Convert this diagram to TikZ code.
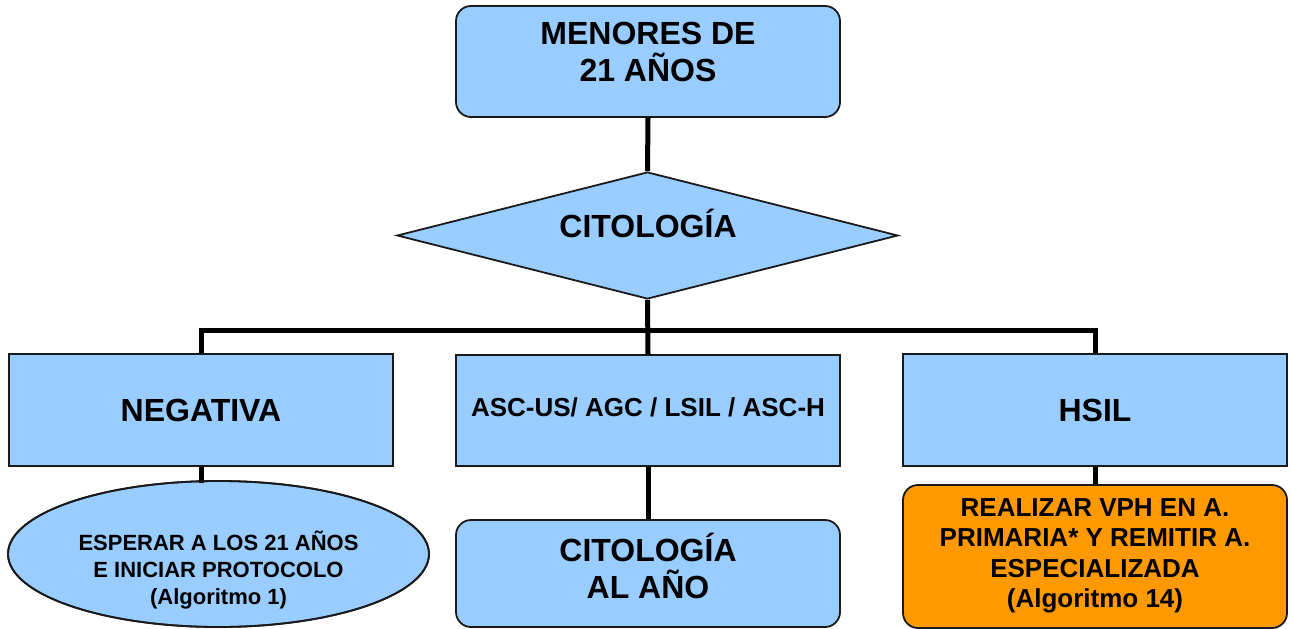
\documentclass[tikz,border=0pt]{standalone}
\usepackage{fontspec}
\setmainfont{Liberation Sans}
\usetikzlibrary{shapes.geometric}
\definecolor{boxblue}{HTML}{99CCFF}
\definecolor{boxorange}{HTML}{FF9900}
\definecolor{edge}{HTML}{1A1A1A}
\tikzset{
  bluebox/.style={draw=edge, line width=1.8pt, fill=boxblue, inner sep=0pt, align=center, font=\bfseries},
  roundbox/.style={bluebox, rounded corners=15pt},
  lbl/.style={inner sep=0pt, align=center, font=\bfseries},
  conn/.style={line width=5pt, black},
}
\begin{document}
\begin{tikzpicture}[x=1pt,y=-1pt]
\useasboundingbox (0,0) rectangle (1291,629);
% top box
\node[roundbox, minimum width=384pt, minimum height=111pt] (top) at (648,61.5) {};
\node[lbl, font=\fontsize{32}{37}\selectfont\bfseries] (toptxt) at (648,52) {MENORES DE\\21 AÑOS};
% diamond
\node[draw=edge, line width=1.8pt, fill=boxblue, diamond, aspect=3.9, minimum width=501pt, minimum height=127pt, inner sep=0pt] (dia) at (647.5,235.5) {};
\node[lbl, font=\fontsize{32}{37}\selectfont\bfseries] (diatxt) at (648,223) {CITOLOGÍA};
% three result boxes
\node[bluebox, minimum width=384pt, minimum height=112pt, font=\fontsize{32}{37}\selectfont\bfseries] (neg) at (201,410) {NEGATIVA};
\node[bluebox, minimum width=384pt, minimum height=111pt] (mid) at (648,410.5) {};
\node[lbl, font=\fontsize{26}{30}\selectfont\bfseries] (midtxt) at (648,407) {ASC-US/ AGC / LSIL / ASC-H};
\node[bluebox, minimum width=384pt, minimum height=112pt, font=\fontsize{32}{37}\selectfont\bfseries] (hsil) at (1095,410) {HSIL};
% bottom row
\node[draw=edge, line width=1.8pt, fill=boxblue, ellipse, minimum width=421pt, minimum height=146pt, inner sep=0pt] (ell) at (218.5,554) {};
\node[lbl, font=\fontsize{22}{27}\selectfont\bfseries] (elltxt) at (218.5,570) {ESPERAR A LOS 21 AÑOS\\E INICIAR PROTOCOLO\\(Algoritmo 1)};
\node[roundbox, minimum width=384pt, minimum height=107pt] (cit) at (648,573.5) {};
\node[lbl, font=\fontsize{32}{37}\selectfont\bfseries] (cittxt) at (648,566) {CITOLOGÍA\\AL AÑO};
\node[roundbox, fill=boxorange, minimum width=384pt, minimum height=143pt] (orn) at (1095,556.5) {};
\node[lbl, font=\fontsize{26}{30.5}\selectfont\bfseries] (orntxt) at (1095,556) {REALIZAR VPH EN A.\\PRIMARIA* Y REMITIR A.\\ESPECIALIZADA\\(Algoritmo 14)};
% connectors
\coordinate (bar) at (648,330);
\coordinate (ellTop) at (201,483);
\draw[conn] (top.south) -- (dia.north);
\draw[conn] (dia.south) -- (mid.north);
\draw[conn] (neg.north) |- (bar) -| (hsil.north);
\draw[conn] (neg.south) -- (ellTop);
\draw[conn] (mid.south) -- (cit.north);
\draw[conn] (hsil.south) -- (orn.north);
% redraw ellipse outline over connector end
\draw[draw=edge, line width=1.8pt] (ell.center) ellipse [x radius=210.5pt, y radius=73pt];
\end{tikzpicture}
\end{document}
